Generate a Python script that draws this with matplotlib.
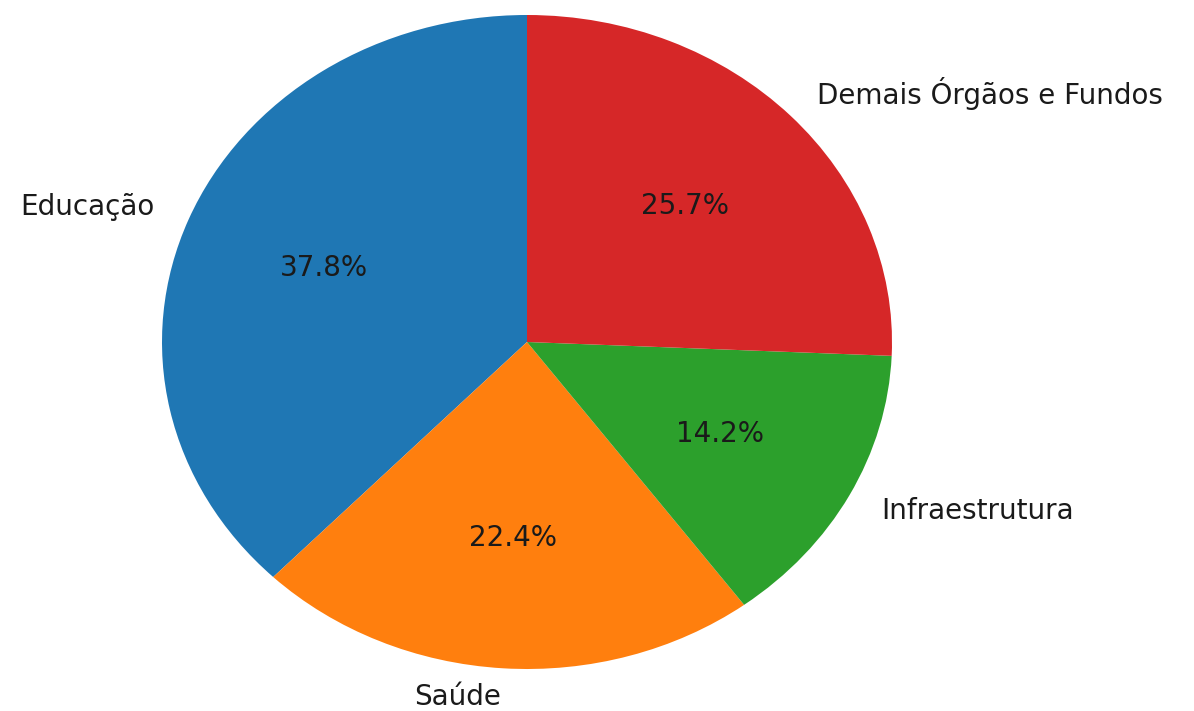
import matplotlib
matplotlib.use("Agg")
import matplotlib.pyplot as plt
import matplotlib.transforms as mtransforms

# dados do gráfico
categorias = ["Educação", "Saúde", "Infraestrutura", "Demais Órgãos e Fundos"]
valores = [37.8, 22.4, 14.2, 25.7]
cores = ["#1f77b4", "#ff7f0e", "#2ca02c", "#d62728"]

fig = plt.figure(figsize=(11.94, 7.11), dpi=100)
ax = fig.add_axes([0, 0, 1, 1])
fatias, rotulos, pcts = ax.pie(valores, labels=categorias, colors=cores,
                               autopct="%1.1f%%", startangle=90,
                               textprops={"fontsize": 20, "color": "#1a1a1a"})
ax.set_aspect("auto")
# pizza levemente achatada, como na referência
cx, cy, rx, ry = 527, 342, 365, 327
ax.set_xlim(-cx / rx, (1194 - cx) / rx)
ax.set_ylim(-(711 - cy) / ry, cy / ry)

# sobe um pouco o rótulo de baixo para não cortar na borda
rotulos[1].set_transform(rotulos[1].get_transform() +
                         mtransforms.ScaledTranslation(0, 4 / 100, fig.dpi_scale_trans))
fig.savefig("out.png", dpi=100)
